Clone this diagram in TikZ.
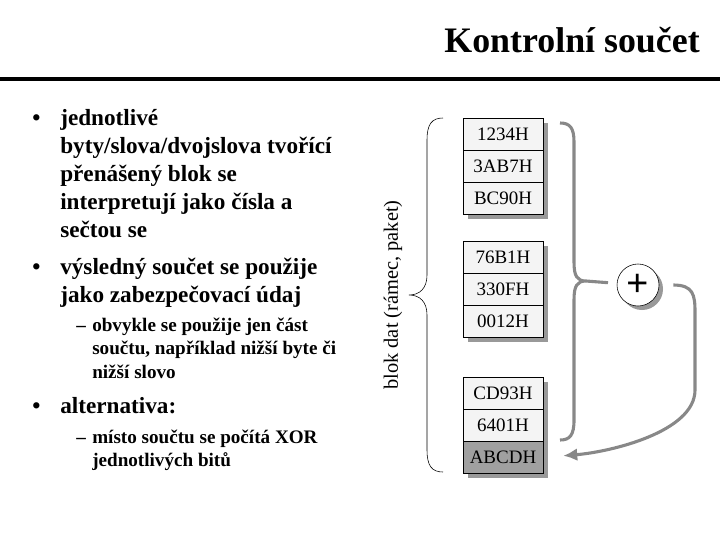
\documentclass[tikz,border=0pt]{standalone}
\usepackage{fontspec}
\setmainfont{Liberation Serif}
\usetikzlibrary{positioning,shadows,arrows.meta}

\definecolor{policko}{HTML}{F4F4F4}
\definecolor{vysl}{HTML}{A0A0A0}
\definecolor{sedacara}{HTML}{888888}

\begin{document}
\begin{tikzpicture}
    [x=0.025cm,y=-0.025cm,
    bod/.style={font=\bfseries\fontsize{16.5}{19.8}\selectfont,align=left,anchor=base west,inner sep=0},
    podbod/.style={font=\bfseries\fontsize{13.6}{16.6}\selectfont,align=left,anchor=base west,inner sep=0},
    slovo/.style={draw,thin,fill=policko,minimum width=2cm,minimum height=0.79cm,inner sep=0,
        font=\fontsize{13.5}{16}\selectfont,
        drop shadow={shadow xshift=0.12cm,shadow yshift=-0.12cm,fill=gray!80,opacity=1}},
    zavorka/.style={draw=sedacara,line width=2.2pt},
    sipka/.style={zavorka,-{Latex[length=0.35cm,width=0.32cm]}}]

    \useasboundingbox (0,0) rectangle (720,540);

    % nadpis
    \node[font=\bfseries\fontsize{25.5}{30}\selectfont,anchor=base east,inner sep=0] (nadpis) at (700,52) {Kontrolní součet};
    \draw[line width=2.2pt] (0,79) -- (720,79);

    % odrazky (kotva je na posledni radce)
    \node[bod] (t1) at (32,125) {\textbullet};
    \node[bod] (b1) at (60,237) {jednotlivé\\byty/slova/dvojslova tvořící\\přenášený blok se\\interpretují jako čísla a\\sečtou se};
    \node[bod] (t2) at (32,274) {\textbullet};
    \node[bod] (b2) at (60,302) {výsledný součet se použije\\jako zabezpečovací údaj};
    \node[podbod] (p1) at (76,331) {--};
    \node[podbod] (c1) at (92,378) {obvykle se použije jen část\\součtu, například nižší byte či\\nižší slovo};
    \node[bod] (t3) at (32,413) {\textbullet};
    \node[bod] (b3) at (60,413) {alternativa:};
    \node[podbod] (p2) at (76,443) {--};
    \node[podbod] (c2) at (92,466.5) {místo součtu se počítá XOR\\jednotlivých bitů};

    % blok dat
    \node[slovo] (s1) at (503,134) {1234H};
    \node[slovo,below=0pt of s1] (s2) {3AB7H};
    \node[slovo,below=0pt of s2] (s3) {BC90H};
    \node[slovo] (s4) at (503,257) {76B1H};
    \node[slovo,below=0pt of s4] (s5) {330FH};
    \node[slovo,below=0pt of s5] (s6) {0012H};
    \node[slovo] (s7) at (503,393) {CD93H};
    \node[slovo,below=0pt of s7] (s8) {6401H};
    \node[slovo,below=0pt of s8,fill=vysl] (soucet) {ABCDH};

    \draw[thin] (443,118) .. controls (432,118) and (427,124) .. (427,140) -- (427,275)
        .. controls (427,288) and (420,295) .. (409,295)
        .. controls (420,295) and (427,302) .. (427,315) -- (427,450)
        .. controls (427,466) and (432,472) .. (443,472);
    \node[font=\fontsize{14.5}{17}\selectfont,rotate=90] (blok) at (393,295) {blok dat (rámec, paket)};

    % scitani
    \node[circle,draw,fill=white,minimum size=1.05cm,inner sep=0,font=\bfseries\fontsize{28}{28}\selectfont,
        drop shadow={shadow xshift=0.1cm,shadow yshift=-0.1cm,fill=gray!80,opacity=1}] (plus) at (638,285) {+};
    \draw[zavorka] (560,123) .. controls (570,123) and (574,128) .. (574,142) -- (574,262)
        .. controls (574,276) and (577,281) .. (586,281) coordinate (hrot)
        .. controls (577,281) and (574,286) .. (574,300) -- (574,420)
        .. controls (574,435) and (570,440) .. (560,440);
    \draw[zavorka,shorten >=0.22cm] (hrot) -- (plus);
    \draw[sipka,shorten >=0.5cm] ([xshift=0.35cm]plus.east) .. controls +(20,0) and (695,295) .. (695,312)
        -- (695,390) .. controls (695,432) and (610,452) .. (soucet.east);
\end{tikzpicture}
\end{document}
